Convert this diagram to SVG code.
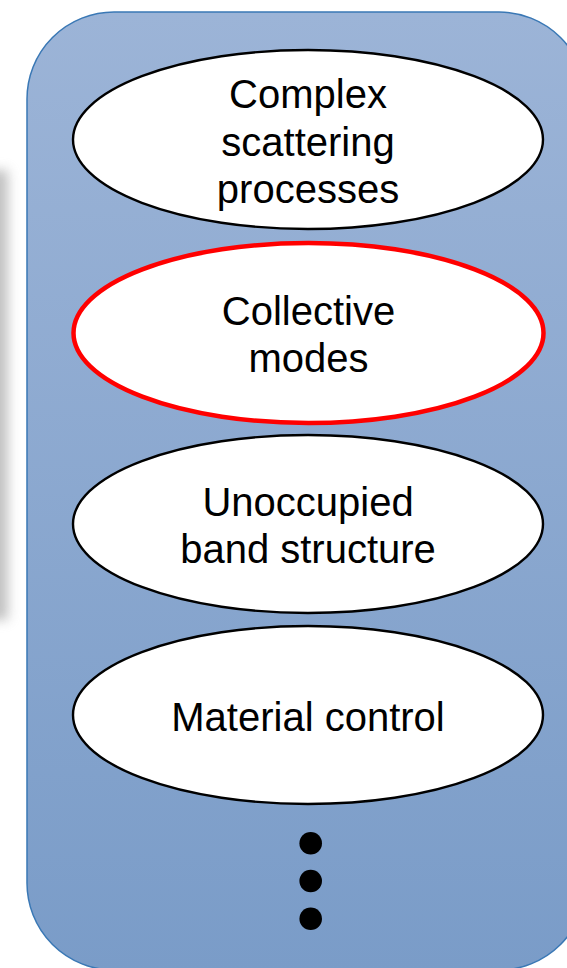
<svg xmlns="http://www.w3.org/2000/svg" width="567" height="968" viewBox="0 0 567 968">
  <defs>
    <linearGradient id="panelFill" x1="0" y1="0" x2="0" y2="1">
      <stop offset="0" stop-color="#9cb4d7"/>
      <stop offset="1" stop-color="#7a9cc8"/>
    </linearGradient>
    <filter id="soft" x="-1" y="-0.2" width="3" height="1.4">
      <feGaussianBlur stdDeviation="6"/>
    </filter>
  </defs>
  <style>
    .topic { fill: #ffffff; stroke: #000000; stroke-width: 2.4; }
    .topic.highlight { stroke: #ff0000; stroke-width: 4.5; }
    .label { font-family: "Liberation Sans", Arial, sans-serif; font-size: 40px; fill: #000000; text-anchor: middle; }
    .dot { fill: #000000; }
  </style>

  <rect width="567" height="968" fill="#ffffff"/>

  <!-- soft shadow of a neighbouring panel at the left edge -->
  <rect x="-60" y="170" width="68" height="450" fill="#9a9a9a" opacity="0.6" filter="url(#soft)"/>

  <!-- background panel -->
  <g id="panel">
    <rect x="27" y="12" width="559" height="958" rx="87" ry="87" fill="url(#panelFill)" stroke="#3a78b5" stroke-width="1.5"/>
  </g>

  <g id="connectors"/>

  <g id="complex-scattering">
    <ellipse class="topic" cx="308" cy="139.5" rx="235" ry="89.5"/>
    <text class="label" x="308" y="107.5">Complex</text>
    <text class="label" x="308" y="155.5">scattering</text>
    <text class="label" x="308" y="203">processes</text>
  </g>

  <g id="collective-modes">
    <ellipse class="topic highlight" cx="308.5" cy="333" rx="235" ry="90"/>
    <text class="label" x="308.5" y="324.5">Collective</text>
    <text class="label" x="308.5" y="372">modes</text>
  </g>

  <g id="unoccupied-band">
    <ellipse class="topic" cx="308" cy="524" rx="235" ry="89"/>
    <text class="label" x="308" y="515.5">Unoccupied</text>
    <text class="label" x="308" y="563">band structure</text>
  </g>

  <g id="material-control">
    <ellipse class="topic" cx="308" cy="715" rx="235" ry="89"/>
    <text class="label" x="308" y="731">Material control</text>
  </g>

  <g id="more">
    <circle class="dot" cx="310.7" cy="843.3" r="11.3"/>
    <circle class="dot" cx="310.7" cy="881" r="11.3"/>
    <circle class="dot" cx="310.7" cy="918.7" r="11.3"/>
  </g>
</svg>
